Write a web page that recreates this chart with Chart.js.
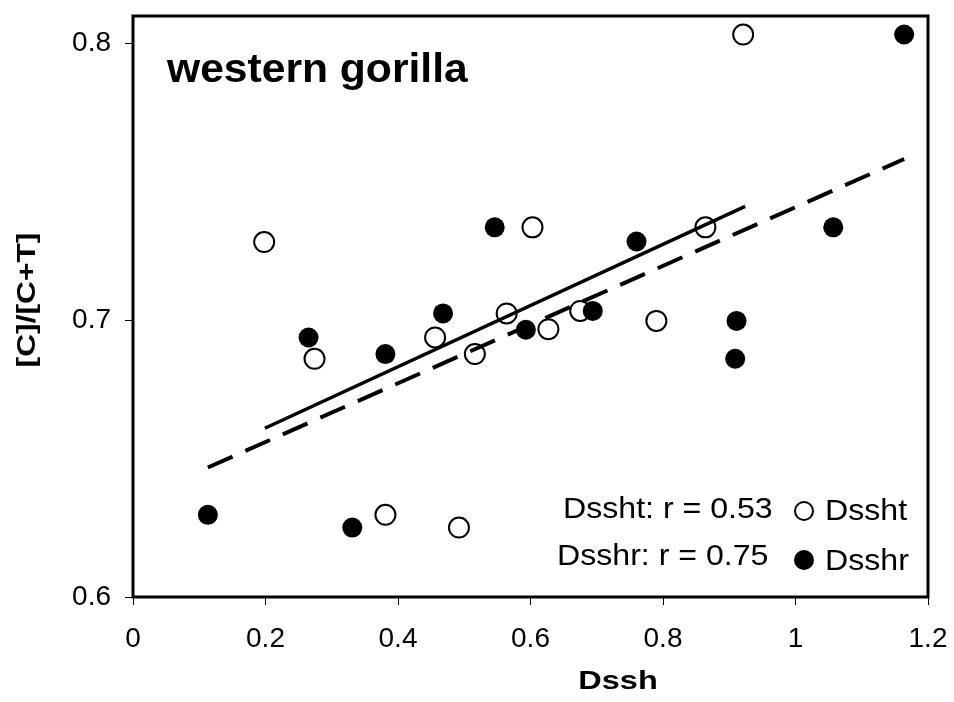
<!DOCTYPE html>
<html>
<head>
<meta charset="utf-8">
<script src="https://cdn.jsdelivr.net/npm/chart.js@4.4.0/dist/chart.umd.min.js"></script>
<style>
  body { margin: 0; background: #fff; }
  #wrap { width: 954px; height: 702px; position: relative; }
</style>
</head>
<body>
<div id="wrap"><canvas id="myChart"></canvas></div>
<script>
// values
var dsshtX = [0.198, 0.274, 0.381, 0.456, 0.492, 0.516, 0.564, 0.603, 0.627, 0.675, 0.790, 0.864, 0.921];
var dsshtY = [0.7283, 0.6861, 0.6297, 0.6938, 0.6251, 0.6878, 0.7025, 0.7336, 0.6968, 0.7034, 0.6998, 0.7336, 0.8033];
var dsshrX = [0.113, 0.265, 0.331, 0.381, 0.468, 0.546, 0.593, 0.694, 0.760, 0.909, 0.911, 1.057, 1.164];
var dsshrY = [0.6297, 0.6938, 0.6251, 0.6878, 0.7025, 0.7336, 0.6966, 0.7034, 0.7285, 0.6861, 0.6998, 0.7336, 0.8033];
// trend line end points
var fitDsshtX = [0.199, 0.924];
var fitDsshtY = [0.6610, 0.7412];
var fitDsshrX = [0.113, 1.164];
var fitDsshrY = [0.6468, 0.7583];

var xTicks = [0, 0.2, 0.4, 0.6, 0.8, 1, 1.2];
var xTickLabels = ['0', '0.2', '0.4', '0.6', '0.8', '1', '1.2'];
var yTicks = [0.6, 0.7, 0.8];
var yTickLabels = ['0.6', '0.7', '0.8'];

var stats = ['Dssht: r = 0.53', 'Dsshr: r = 0.75'];

function pts(xs, ys) {
  return xs.map(function(x, i) { return { x: x, y: ys[i] }; });
}

var FONT = '"Liberation Sans", Arial, sans-serif';

// text a bit wider than the font, like the original
function stretchText(ctx, txt, x, y, sx) {
  ctx.save();
  ctx.translate(x, y);
  ctx.scale(sx, 1);
  ctx.fillText(txt, 0, 0);
  ctx.restore();
}

// frame, title, stats and legend drawn on top
var extras = {
  id: 'extras',
  afterDraw: function(chart) {
    var ctx = chart.ctx, a = chart.chartArea;
    ctx.save();
    ctx.strokeStyle = '#000';
    ctx.lineWidth = 3;
    ctx.strokeRect(a.left, a.top, a.right - a.left, a.bottom - a.top);

    ctx.fillStyle = '#000';
    ctx.textBaseline = 'alphabetic';
    ctx.textAlign = 'left';
    ctx.font = 'bold 40px ' + FONT;
    stretchText(ctx, 'western gorilla', 167, 82, 1.065);

    ctx.font = '30px ' + FONT;
    stretchText(ctx, stats[0], 563, 518, 1.07);
    stretchText(ctx, stats[1], 557, 565, 1.07);

    // legend
    ctx.beginPath();
    ctx.arc(804, 511, 9, 0, Math.PI * 2);
    ctx.fillStyle = '#fff';
    ctx.fill();
    ctx.lineWidth = 2;
    ctx.stroke();
    ctx.beginPath();
    ctx.arc(804, 560, 10, 0, Math.PI * 2);
    ctx.fillStyle = '#000';
    ctx.fill();
    stretchText(ctx, chart.data.datasets[0].label, 825, 520, 1.07);
    stretchText(ctx, chart.data.datasets[1].label, 825, 570, 1.07);

    // axis titles
    ctx.font = 'bold 26px ' + FONT;
    ctx.textAlign = 'center';
    ctx.textBaseline = 'middle';
    stretchText(ctx, 'Dssh', 618, 682, 1.25);
    ctx.translate(28, 300);
    ctx.rotate(-Math.PI / 2);
    stretchText(ctx, '[C]/[C+T]', 0, 0, 1.22);
    ctx.restore();
  }
};

var ctx = document.getElementById('myChart').getContext('2d');
var chart = new Chart(ctx, {
  type: 'scatter',
  data: {
    datasets: [
      { label: 'Dssht', data: pts(dsshtX, dsshtY), order: 2,
        pointRadius: 10, pointBackgroundColor: '#fff', pointBorderColor: '#000', pointBorderWidth: 2 },
      { label: 'Dsshr', data: pts(dsshrX, dsshrY), order: 1,
        pointRadius: 10, pointBackgroundColor: '#000', pointBorderColor: '#000', pointBorderWidth: 0 },
      { type: 'line', label: 'fit Dssht', data: pts(fitDsshtX, fitDsshtY), order: 0,
        borderColor: '#000', borderWidth: 3.5, pointRadius: 0, fill: false },
      { type: 'line', label: 'fit Dsshr', data: pts(fitDsshrX, fitDsshrY), order: 0,
        borderColor: '#000', borderWidth: 4, borderDash: [27, 14], pointRadius: 0, fill: false }
    ]
  },
  options: {
    responsive: true,
    maintainAspectRatio: false,
    animation: false,
    layout: { padding: { top: 16, right: 26, left: 0, bottom: 0 } },
    plugins: { legend: { display: false }, tooltip: { enabled: false } },
    scales: {
      x: {
        type: 'linear', min: 0, max: 1.2,
        afterBuildTicks: function(s) { s.ticks = xTicks.map(function(v) { return { value: v }; }); },
        afterFit: function(s) { s.height = 105; s.paddingLeft = 0; s.paddingRight = 0; },
        grid: { drawOnChartArea: false, tickLength: 8, color: '#000', lineWidth: 1 },
        border: { display: false },
        ticks: { color: '#000', padding: 17, maxRotation: 0, font: { family: FONT, size: 28 },
          callback: function(v, i) { return xTickLabels[i]; } }
      },
      y: {
        type: 'linear', min: 0.6, max: 0.81,
        afterBuildTicks: function(s) { s.ticks = yTicks.map(function(v) { return { value: v }; }); },
        afterFit: function(s) { s.width = 133; s.paddingTop = 0; s.paddingBottom = 0; },
        grid: { drawOnChartArea: false, tickLength: 8, color: '#000', lineWidth: 1 },
        border: { display: false },
        ticks: { color: '#000', padding: 14, font: { family: FONT, size: 28 },
          callback: function(v, i) { return yTickLabels[i]; } }
      }
    }
  },
  plugins: [extras]
});
</script>
</body>
</html>
